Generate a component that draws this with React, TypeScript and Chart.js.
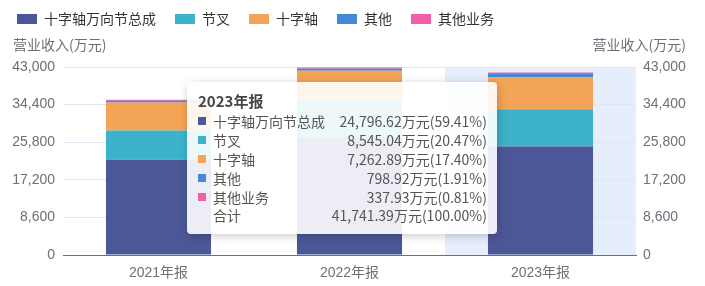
import React, { useEffect, useRef } from 'react';
import { Chart, registerables } from 'chart.js';

Chart.register(...registerables);

// ---- data ----
const categories = ['2021年报', '2022年报', '2023年报'];
const seriesNames = ['十字轴万向节总成', '节叉', '十字轴', '其他', '其他业务'];
const seriesColors = ['#4c5797', '#3cb3ca', '#f3a456', '#4688d8', '#f25ea7'];
const assemblyValues = [21800, 26900, 24796.617];
const yokeValues = [6700, 8620, 8545.038];
const crossValues = [6400, 6630, 7262.887];
const otherValues = [380, 460, 798.918];
const otherBizValues = [240, 300, 337.928];
const yTicks = [0, 8600, 17200, 25800, 34400, 43000];
const axisName = '营业收入(万元)';
const unitText = '万元';
const totalLabel = '合计';
const highlightIndex = 2;

const seriesValues = [assemblyValues, yokeValues, crossValues, otherValues, otherBizValues];

// ---- styles ----
const CJK = "'Noto Sans CJK SC', sans-serif";
const TICK_FONT = "'Liberation Sans', 'Noto Sans CJK SC', sans-serif";
const AXIS_COLOR = '#6E7079';
const W = 707;
const H = 293;

const fmt2 = (v: number) =>
  v.toLocaleString('en-US', { minimumFractionDigits: 2, maximumFractionDigits: 2 });

export default function App() {
  const canvasRef = useRef<HTMLCanvasElement>(null);
  const tipRef = useRef<HTMLDivElement>(null);

  useEffect(() => {
    const canvas = canvasRef.current;
    if (!canvas) return;

    const decorPlugin = {
      id: 'decor',
      beforeDraw(chart: any) {
        const active = chart.tooltip ? chart.tooltip.getActiveElements() : [];
        if (!active.length) return;
        const idx = active[0].index;
        const xs = chart.scales.x;
        const half = (xs.getPixelForValue(1) - xs.getPixelForValue(0)) / 2;
        const cx = xs.getPixelForValue(idx);
        const { top, bottom } = chart.chartArea;
        const ctx = chart.ctx;
        ctx.save();
        ctx.fillStyle = '#e6edfb';
        ctx.fillRect(cx - half, top, half * 2, bottom - top);
        ctx.restore();
      },
      afterDraw(chart: any) {
        const ctx = chart.ctx;
        const { left, right, top } = chart.chartArea;
        ctx.save();
        ctx.font = `14px ${CJK}`;
        ctx.fillStyle = AXIS_COLOR;
        ctx.textBaseline = 'middle';
        ctx.textAlign = 'left';
        ctx.fillText(axisName, left - 50, top - 22);
        ctx.textAlign = 'right';
        ctx.fillText(axisName, right + 50, top - 22);
        ctx.restore();
      },
    };

    const external = ({ tooltip }: any) => {
      const el = tipRef.current;
      if (!el) return;
      if (!tooltip || tooltip.opacity === 0 || !tooltip.dataPoints || !tooltip.dataPoints.length) {
        el.style.display = 'none';
        return;
      }
      const points = tooltip.dataPoints;
      const total = points.reduce((s: number, p: any) => s + (p.raw as number), 0);
      el.replaceChildren();
      const title = document.createElement('div');
      title.textContent = tooltip.title && tooltip.title.length ? tooltip.title[0] : '';
      Object.assign(title.style, {
        fontSize: '15px',
        fontWeight: 'bold',
        lineHeight: '22px',
        height: '22px',
        color: '#464646',
      });
      el.appendChild(title);
      const addRow = (color: string | null, label: string, value: string) => {
        const row = document.createElement('div');
        Object.assign(row.style, {
          display: 'flex',
          alignItems: 'center',
          height: '18.8px',
          fontSize: '14px',
          whiteSpace: 'nowrap',
        });
        const sq = document.createElement('span');
        Object.assign(sq.style, {
          display: 'inline-block',
          width: '8px',
          height: '8px',
          marginRight: '7px',
          background: color || 'transparent',
          flex: '0 0 auto',
        });
        const lab = document.createElement('span');
        lab.textContent = label;
        const val = document.createElement('span');
        val.textContent = value;
        val.style.marginLeft = 'auto';
        row.appendChild(sq);
        row.appendChild(lab);
        row.appendChild(val);
        el.appendChild(row);
      };
      points.forEach((p: any) => {
        const v = p.raw as number;
        addRow(
          p.dataset.backgroundColor as string,
          p.dataset.label,
          `${fmt2(v)}${unitText}(${((v / total) * 100).toFixed(2)}%)`
        );
      });
      addRow(null, totalLabel, `${fmt2(total)}${unitText}(100.00%)`);
      el.style.display = 'block';
    };

    const chart = new Chart(canvas, {
      type: 'bar',
      data: {
        labels: categories,
        datasets: seriesNames.map((name, i) => ({
          label: name,
          data: seriesValues[i],
          backgroundColor: seriesColors[i],
          borderWidth: 0,
          barPercentage: 0.55,
          categoryPercentage: 1,
          yAxisID: 'y',
        })),
      },
      options: {
        responsive: false,
        devicePixelRatio: 1,
        animation: false,
        events: [],
        layout: { padding: 0 },
        plugins: {
          legend: {
            position: 'top',
            align: 'start',
            weight: 3000,
            labels: {
              boxWidth: 20,
              boxHeight: 10,
              padding: 19,
              color: '#333',
              font: { family: CJK, size: 14 },
            },
          } as any,
          title: {
            display: true,
            text: '',
            padding: 0,
            font: { size: 31, lineHeight: 1 },
          },
          tooltip: {
            enabled: false,
            mode: 'index',
            intersect: false,
            external,
          },
        },
        scales: {
          x: {
            stacked: true,
            grid: { display: false, drawTicks: false },
            border: { display: true, color: AXIS_COLOR, width: 1 },
            ticks: { color: AXIS_COLOR, font: { family: TICK_FONT, size: 14 }, padding: 10 },
            afterFit: (s: any) => {
              s.height = 31;
            },
          },
          y: {
            stacked: true,
            position: 'left',
            min: yTicks[0],
            max: yTicks[yTicks.length - 1],
            afterBuildTicks: (s: any) => {
              s.ticks = yTicks.map((v) => ({ value: v }));
            },
            grid: { color: '#E0E6F1', drawTicks: false },
            border: { display: false },
            ticks: {
              color: AXIS_COLOR,
              font: { family: TICK_FONT, size: 14 },
              padding: 8,
              callback: (v: any) => Number(v).toLocaleString('en-US'),
            },
            afterFit: (s: any) => {
              s.width = 65;
            },
          },
          y1: {
            position: 'right',
            min: yTicks[0],
            max: yTicks[yTicks.length - 1],
            afterBuildTicks: (s: any) => {
              s.ticks = yTicks.map((v) => ({ value: v }));
            },
            grid: { display: false, drawTicks: false },
            border: { display: false },
            ticks: {
              color: AXIS_COLOR,
              font: { family: TICK_FONT, size: 14 },
              padding: 7,
              callback: (v: any) => Number(v).toLocaleString('en-US'),
            },
            afterFit: (s: any) => {
              s.width = 69;
            },
          },
        },
      } as any,
      plugins: [decorPlugin],
    });

    const bar: any = chart.getDatasetMeta(0).data[highlightIndex];
    chart.tooltip!.setActiveElements(
      seriesNames.map((_, i) => ({ datasetIndex: i, index: highlightIndex })),
      { x: bar.x, y: bar.y }
    );
    chart.draw();

    return () => {
      chart.destroy();
      if (tipRef.current) tipRef.current.style.display = 'none';
    };
  }, []);

  return (
    <div style={{ position: 'absolute', left: -2, top: -7, width: W, height: H }}>
      <canvas
        ref={canvasRef}
        width={W}
        height={H}
        style={{ width: W, height: H, display: 'block' }}
      />
      <div
        ref={tipRef}
        style={{
          display: 'none',
          position: 'absolute',
          left: 189,
          top: 89,
          width: 310,
          height: 152,
          boxSizing: 'border-box',
          padding: '8px 10px 9px 11px',
          background: 'rgba(255,255,255,0.9)',
          borderRadius: 4,
          boxShadow: 'rgba(0,0,0,0.2) 1px 2px 10px',
          fontFamily: CJK,
          color: '#555',
          pointerEvents: 'none',
        }}
      />
    </div>
  );
}
